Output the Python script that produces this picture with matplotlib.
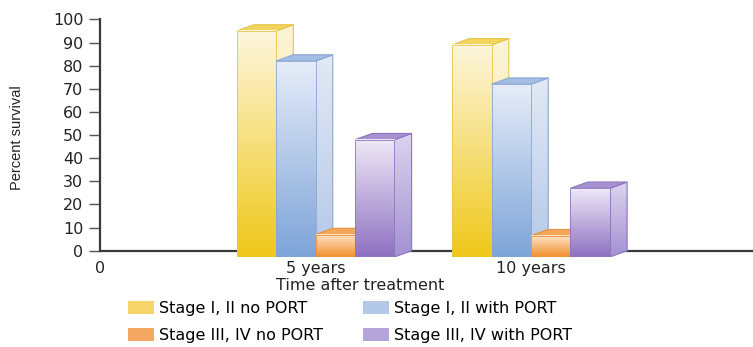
import numpy as np
import matplotlib
matplotlib.use("Agg")
from matplotlib import pyplot as plt
from matplotlib.colors import to_rgb
from matplotlib.patches import Polygon, Rectangle

# survival data
years = [5, 10]
year_labels = ["5 years", "10 years"]
series = ["Stage I, II no PORT", "Stage I, II with PORT",
          "Stage III, IV no PORT", "Stage III, IV with PORT"]
stage12_no_port = [95, 89]
stage12_port = [82, 72]
stage34_no_port = [7, 6.5]
stage34_port = [48, 27]

# colours per series: front top, front bottom, side top, side bottom, top face, edge
styles = [
    ("#fdf6dc", "#efc81a", "#fcf4d6", "#f6e4a0", "#f2d55e", "#e6c54a"),
    ("#e6ecf8", "#7ea4d8", "#e2e9f6", "#b4c8e8", "#a4bde2", "#8aa6d4"),
    ("#fde4c8", "#f1902e", "#fbd7b0", "#f2a860", "#f4a75a", "#e8903c"),
    ("#eee8f7", "#8e72c2", "#dcd3ee", "#a391d2", "#a591d0", "#8c76c0"),
]
legend_colors = ["#f5d46a", "#b4c8e8", "#f4a862", "#b5a4da"]

bar_w = 0.915
dx, dy = 0.40, 2.7

fig = plt.figure(figsize=(7.53, 3.47), dpi=100)
ax = fig.add_axes([100 / 753, 90 / 347, 653 / 753, 239 / 347])


def vgrad(top, bottom, n=64):
    t = np.linspace(0, 1, n)[:, None]
    c = (1 - t) * np.array(to_rgb(top)) + t * np.array(to_rgb(bottom))
    return c[:, None, :]


def bar3d(x0, v, st, z):
    ftop, fbot, stop, sbot, topc, edge = st
    x1 = x0 + bar_w
    # side face
    side = Polygon([(x1, -dy), (x1 + dx, 0), (x1 + dx, v + dy), (x1, v)],
                   closed=True, facecolor="none", edgecolor=edge, lw=0.8, zorder=z + 0.2)
    ax.add_patch(side)
    im = ax.imshow(vgrad(stop, sbot), extent=(x1, x1 + dx, -dy, v + dy),
                   aspect="auto", zorder=z + 0.1, interpolation="bilinear")
    im.set_clip_path(side)
    # top face
    ax.add_patch(Polygon([(x0, v), (x1, v), (x1 + dx, v + dy), (x0 + dx, v + dy)],
                         closed=True, facecolor=topc, edgecolor=edge, lw=0.8, zorder=z + 0.3))
    # front face
    ax.imshow(vgrad(ftop, fbot), extent=(x0, x1, -dy, v),
              aspect="auto", zorder=z + 0.4, interpolation="bilinear")
    ax.add_patch(Rectangle((x0, -dy), bar_w, v + dy, facecolor="none",
                           edgecolor=edge, lw=0.6, zorder=z + 0.5))


ax.axhline(0, color="#3a3a3a", lw=1.6, zorder=1)

all_vals = [stage12_no_port, stage12_port, stage34_no_port, stage34_port]
for g, yr in enumerate(years):
    start = yr - 2 * bar_w
    for i, vals in enumerate(all_vals):
        bar3d(start + i * bar_w, vals[g], styles[i], 2 + i)

ax.set_xlim(0, 653 / 43.1)
ax.set_ylim(-dy, 100.6)

for s in ["top", "right", "bottom"]:
    ax.spines[s].set_visible(False)
ax.spines["left"].set_bounds(0, 100)
ax.spines["left"].set_color("#3a3a3a")
ax.spines["left"].set_linewidth(1.6)

ax.set_yticks(range(0, 101, 10))
ax.tick_params(axis="y", length=8, width=1, color="#555555", pad=4,
               labelsize=11.5, labelcolor="#222222")
ax.set_xticks([0] + years)
ax.set_xticklabels(["0"] + year_labels)
ax.tick_params(axis="x", length=0, pad=3, labelsize=11.5, labelcolor="#222222")

ax.set_ylabel("Percent survival", family="Liberation Sans",
              fontsize=10.5, color="#222222")
ax.yaxis.set_label_coords(-0.117, 0.5)
ax.set_xlabel("Time after treatment", fontsize=11.5, color="#222222", labelpad=0)
ax.xaxis.set_label_coords(0.398, -0.088)

handles = [Rectangle((0, 0), 1, 1, facecolor=c, edgecolor="none") for c in legend_colors]
order = [0, 2, 1, 3]
fig.legend([handles[i] for i in order], [series[i] for i in order], ncol=2,
           loc="upper left", bbox_to_anchor=(128 / 753, 1 - 301 / 347),
           frameon=False, fontsize=11.5, handlelength=1.6, handleheight=0.9,
           handletextpad=0.35, columnspacing=2.5, labelspacing=0.74,
           borderpad=0, borderaxespad=0)

fig.savefig("out.png", dpi=100)
